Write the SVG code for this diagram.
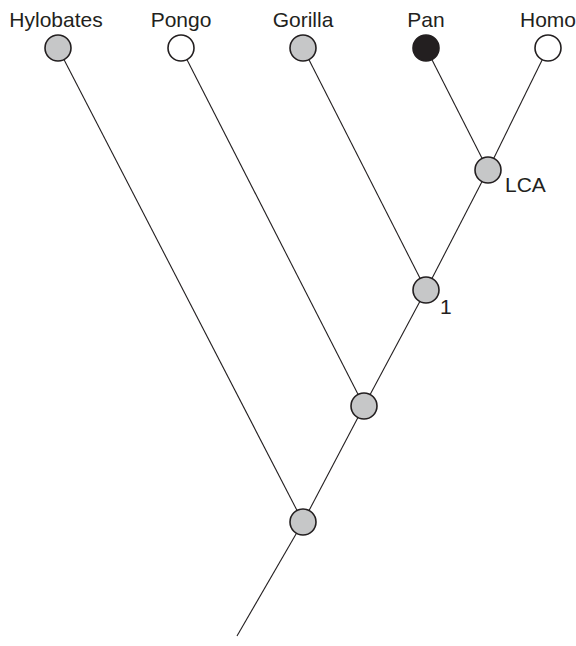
<svg xmlns="http://www.w3.org/2000/svg" width="576" height="646" viewBox="0 0 576 646">
  <style>
    .edge { stroke: #231f20; stroke-width: 1.1; fill: none; }
    .node { stroke: #231f20; stroke-width: 1.6; }
    .grey { fill: #c6c7c8; }
    .white { fill: #ffffff; }
    .black { fill: #231f20; }
    .label { font-family: "Liberation Sans", Arial, sans-serif; font-size: 21px; fill: #231f20; }
  </style>
  <rect width="576" height="646" fill="#ffffff"/>

  <!-- branches -->
  <g id="connectors">
    <line class="edge" x1="58" y1="48" x2="303" y2="522"/>
    <line class="edge" x1="181" y1="48" x2="364" y2="406"/>
    <line class="edge" x1="303" y1="48" x2="426" y2="290"/>
    <line class="edge" x1="426" y1="48" x2="488" y2="170"/>
    <line class="edge" x1="548" y1="48" x2="488" y2="170"/>
    <line class="edge" x1="488" y1="170" x2="426" y2="290"/>
    <line class="edge" x1="426" y1="290" x2="364" y2="406"/>
    <line class="edge" x1="364" y1="406" x2="303" y2="522"/>
    <line class="edge" x1="303" y1="522" x2="237" y2="636"/>
  </g>

  <!-- leaf taxa -->
  <g id="hylobates">
    <circle class="node grey" cx="58" cy="48" r="13"/>
    <text class="label" x="56" y="27" text-anchor="middle">Hylobates</text>
  </g>
  <g id="pongo">
    <circle class="node white" cx="181" cy="48" r="13"/>
    <text class="label" x="181" y="27" text-anchor="middle">Pongo</text>
  </g>
  <g id="gorilla">
    <circle class="node grey" cx="303" cy="48" r="13"/>
    <text class="label" x="303" y="27" text-anchor="middle">Gorilla</text>
  </g>
  <g id="pan">
    <circle class="node black" cx="426" cy="48" r="13"/>
    <text class="label" x="426" y="27" text-anchor="middle">Pan</text>
  </g>
  <g id="homo">
    <circle class="node white" cx="548" cy="48" r="13"/>
    <text class="label" x="548" y="27" text-anchor="middle">Homo</text>
  </g>

  <!-- internal nodes -->
  <g id="lca">
    <circle class="node grey" cx="488" cy="170" r="13"/>
    <text class="label" x="505" y="192">LCA</text>
  </g>
  <g id="node1">
    <circle class="node grey" cx="426" cy="290" r="13"/>
    <text class="label" x="440" y="314">1</text>
  </g>
  <g id="node2">
    <circle class="node grey" cx="364" cy="406" r="13"/>
  </g>
  <g id="node3">
    <circle class="node grey" cx="303" cy="522" r="13"/>
  </g>
</svg>
